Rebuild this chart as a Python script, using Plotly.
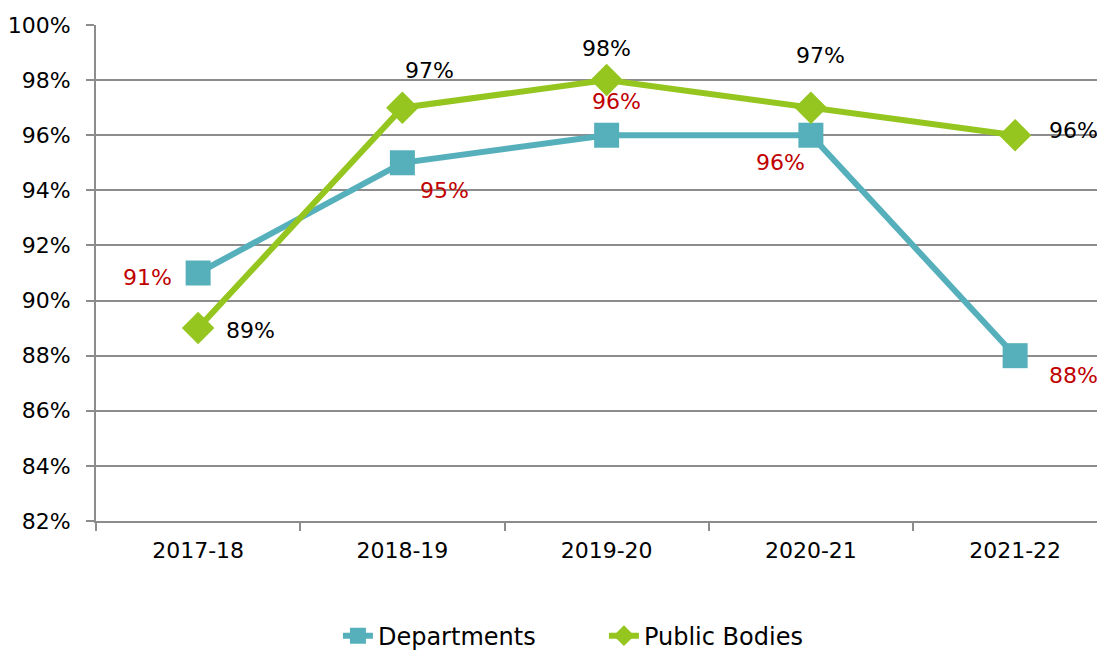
import plotly.graph_objects as go

categories = ["2017-18", "2018-19", "2019-20", "2020-21", "2021-22"]
departments = [0.91, 0.95, 0.96, 0.96, 0.88]
public_bodies = [0.89, 0.97, 0.98, 0.97, 0.96]

dept_offsets = [(-51, -4), (42, -28), (10, 34), (-30, -27), (58, -20)]
pb_offsets = [(52, -2), (27, 37), (0, 32), (10, 52), (58, 5)]

FONT = "'DejaVu Sans', sans-serif"
DEPT_C = "#56b0bb"
PB_C = "#95c61f"

fig = go.Figure()
fig.add_trace(go.Scatter(x=categories, y=departments, name="Departments", mode="lines+markers",
                         line=dict(color=DEPT_C, width=6),
                         marker=dict(symbol="square", size=25, color=DEPT_C)))
fig.add_trace(go.Scatter(x=categories, y=public_bodies, name="Public Bodies", mode="lines+markers",
                         line=dict(color=PB_C, width=6),
                         marker=dict(symbol="diamond", size=25, color=PB_C)))

anns = []
for i, (c, v) in enumerate(zip(categories, departments)):
    dx, dy = dept_offsets[i]
    anns.append(dict(x=c, y=v, text=f"{round(v*100)}%", showarrow=False, xshift=dx, yshift=dy,
                     font=dict(color="#c00000", size=22, family=FONT)))
for i, (c, v) in enumerate(zip(categories, public_bodies)):
    dx, dy = pb_offsets[i]
    anns.append(dict(x=c, y=v, text=f"{round(v*100)}%", showarrow=False, xshift=dx, yshift=dy,
                     font=dict(color="#000000", size=22, family=FONT)))

fig.update_layout(
    width=1105, height=650,
    margin=dict(l=88, r=8, t=17, b=137, autoexpand=False),
    paper_bgcolor="white", plot_bgcolor="white",
    font=dict(family=FONT, size=22, color="#000000"),
    annotations=anns,
    showlegend=True,
    legend=dict(orientation="h", x=0.5393, xanchor="center", xref="container",
                y=0.0338, yanchor="middle", yref="container",
                entrywidth=221, entrywidthmode="pixels",
                font=dict(size=24, family=FONT)),
    xaxis=dict(type="category", range=[-0.5, 4.44], showgrid=False,
               showline=True, linecolor="#8c8c8c", linewidth=2,
               ticks="outside", tickson="boundaries", ticklen=8, tickcolor="#8c8c8c", tickwidth=2,
               ticklabelstandoff=9, automargin=False,
               tickfont=dict(size=22, family=FONT)),
    yaxis=dict(range=[0.82, 1.0], dtick=0.02, tickformat=".0%",
               showgrid=True, gridcolor="#8c8c8c", gridwidth=2,
               showline=True, linecolor="#8c8c8c", linewidth=2,
               ticks="outside", ticklen=8, tickcolor="#8c8c8c", tickwidth=2,
               ticklabelstandoff=11, automargin=False,
               zeroline=False, tickfont=dict(size=22, family=FONT)),
)

fig.write_html("out.html")
